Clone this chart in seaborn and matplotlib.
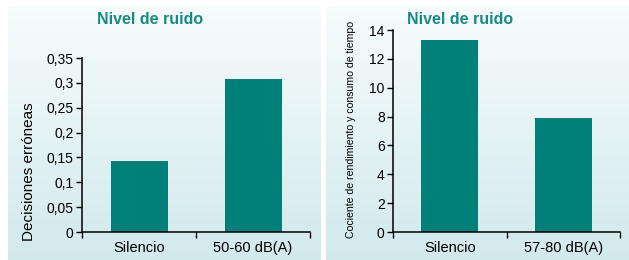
import numpy as np
import pandas as pd
import seaborn as sns
import matplotlib.pyplot as plt
from matplotlib.colors import LinearSegmentedColormap

# data
cats_left = ["Silencio", "50-60 dB(A)"]
vals_left = [0.142, 0.308]
cats_right = ["Silencio", "57-80 dB(A)"]
vals_right = [13.3, 7.9]
yticks_left = [0, 0.05, 0.1, 0.15, 0.2, 0.25, 0.3, 0.35]
ytick_labels_left = ["0", "0,05", "0,1", "0,15", "0,2", "0,25", "0,3", "0,35"]
yticks_right = [0, 2, 4, 6, 8, 10, 12, 14]
title = "Nivel de ruido"

sns.set_style("white")
plt.rcParams['font.family'] = ['Liberation Sans', 'DejaVu Sans']
plt.rcParams['text.color'] = 'black'
plt.rcParams['axes.labelcolor'] = 'black'
plt.rcParams['xtick.color'] = 'black'
plt.rcParams['ytick.color'] = 'black'

BAR = "#008079"
TITLE_C = "#178a83"
W, H = 629, 260

fig = plt.figure(figsize=(W / 100, H / 100), dpi=100)

# gradient panels behind the charts
grad = LinearSegmentedColormap.from_list("bg", ["#f7fcfc", "#d2e9ec"])
for x0, x1 in [(8, 321), (326, 629)]:
    bg = fig.add_axes([x0 / W, 0, (x1 - x0) / W, 1 - 6 / H], zorder=0)
    bg.imshow(np.linspace(0, 1, 256).reshape(-1, 1), aspect="auto", cmap=grad,
              extent=[0, 1, 0, 1], origin="upper")
    bg.axis("off")


def draw(rect, cats, vals, ymax, yticks, yticklabels, ylabel, ylabel_size, label_xy):
    ax = fig.add_axes(rect, zorder=1)
    ax.patch.set_alpha(0)
    df = pd.DataFrame({"cat": cats, "val": vals})
    sns.barplot(data=df, x="cat", y="val", color=BAR, saturation=1, width=0.5,
                linewidth=0, ax=ax)
    ax.set_xlim(-0.5, 1.5)
    ax.set_ylim(0, ymax)
    ax.set_yticks(yticks)
    ax.set_yticklabels(yticklabels)
    ax.set_xlabel("")
    ax.set_ylabel(ylabel, fontsize=ylabel_size)
    # label position given in figure pixels
    ax.yaxis.set_label_coords(label_xy[0] / W, 1 - label_xy[1] / H,
                              transform=fig.transFigure)
    sns.despine(ax=ax)
    for s in ["left", "bottom"]:
        ax.spines[s].set_color("black")
        ax.spines[s].set_linewidth(1.1)
    ax.tick_params(axis="y", which="major", left=True, length=4, width=1, labelsize=10, pad=2)
    ax.tick_params(axis="x", which="major", bottom=False, labelsize=10.5, pad=3)
    ax.set_xticks([-0.5, 0.5, 1.5], minor=True)
    ax.tick_params(axis="x", which="minor", bottom=True, length=4, width=1)
    return ax


draw([82 / W, 28 / H, 228 / W, 174 / H], cats_left, vals_left, 0.35,
     yticks_left, ytick_labels_left, "Decisiones erróneas", 11, (36, 172))
draw([393 / W, 28 / H, 227 / W, 202 / H], cats_right, vals_right, 14,
     yticks_right, [str(v) for v in yticks_right],
     "Cociente de rendimiento y consumo de tiempo", 7.6, (356, 129))

fig.text(150 / W, 1 - 20 / H, title, ha="center", va="center", fontsize=11.5,
         fontweight="bold", color=TITLE_C)
fig.text(460 / W, 1 - 20 / H, title, ha="center", va="center", fontsize=11.5,
         fontweight="bold", color=TITLE_C)

fig.savefig("out.png", dpi=100)
